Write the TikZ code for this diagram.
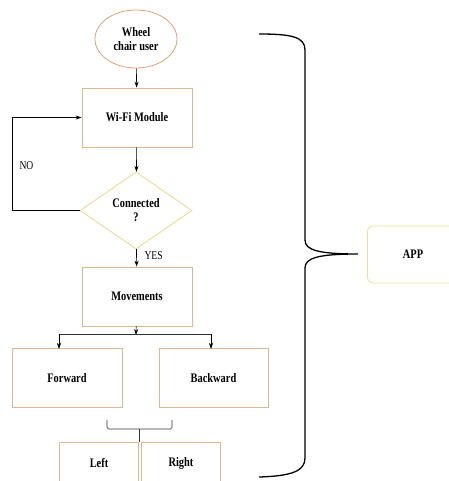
\documentclass[tikz,border=0pt]{standalone}
\usepackage{fontspec}
\setmainfont{Liberation Serif}[FakeStretch=0.8]
\usepackage{tikz}
\usetikzlibrary{shapes.geometric, arrows.meta, positioning}
\definecolor{boxtan}{RGB}{222, 184, 140}
\definecolor{ovalorange}{RGB}{230, 160, 110}
\definecolor{diayellow}{RGB}{232, 218, 130}
\definecolor{appyellow}{RGB}{236, 228, 140}

\begin{document}
\begin{tikzpicture}[
    x=1pt, y=-1pt,
    font=\fontsize{13}{14}\selectfont\bfseries,
    stepbox/.style={rectangle, draw=boxtan, thick, fill=white,
                minimum width=110pt, minimum height=59pt, text centered},
    halfbox/.style={rectangle, draw=boxtan, thick, fill=white,
                minimum width=79pt, minimum height=42pt, text centered},
    arrow/.style={-{Stealth[length=6pt, width=4pt]}, semithick, black},
    plain/.style={semithick, black!80}
]
    \useasboundingbox (0,0) rectangle (448,481);

    % Start
    \node[ellipse, draw=ovalorange, thick, minimum width=82pt, minimum height=58pt,
          align=center, inner sep=1pt] (user) at (136,39) {Wheel\\chair user};

    % Connection check
    \node[stepbox] (wifi) at (137,117.5) {Wi-Fi Module};
    \node[diamond, draw=diayellow, thick, aspect=1.45, minimum width=112pt,
          minimum height=77pt, inner sep=0pt, align=center] (conn) at (136,210.5) {Connected\\?};

    % Motion
    \node[stepbox] (moves) at (137,296.5) {Movements};
    \node[stepbox] (fwd) at (67,378) {Forward};
    \node[stepbox, minimum width=109pt] (bwd) at (213.5,378) {Backward};
    \node[halfbox, anchor=north] (left) at (99,442) {Left};
    \node[halfbox, anchor=north] (right) at (181,442) {Right};

    % App
    \node[rectangle, draw=appyellow, thick, rounded corners=6pt, anchor=west,
          minimum width=95pt, minimum height=57pt, text centered] (app) at (367,254.5) {};
    \node at (413,254) {APP};

    % Connections
    \draw[arrow] (user) -- (wifi);
    \draw[arrow] (wifi) -- (conn);
    \draw[arrow] (conn.west) -| (12,117.5) -- (wifi.west);
    \draw[arrow] (conn) -- (moves);
    \coordinate (split) at (136,335);
    \draw[arrow] (moves) -- (split);
    \draw[plain] (59,334) -- (211,334);
    \draw[arrow] (59,334) -- (59,349);
    \draw[arrow] (211,334) -- (211,349);

    % Small bracket to Left/Right
    \coordinate (join) at (139,429);
    \draw[plain, rounded corners=1.5pt] (107,420) -- (107,429) -- (172,429) -- (172,420);
    \draw[plain] (join) -- (left.north east -| join);

    % Labels
    \node[font=\fontsize{12}{13}\selectfont, anchor=west] at (16,166) {NO};
    \node[font=\fontsize{12}{13}\selectfont, anchor=west] at (141,256) {YES};

    % Big brace
    \coordinate (bracetip) at (358,254);
    \draw[line width=1.3pt]
        (259,34) .. controls (292,34) and (305,37) .. (305,50)
        -- (305,240) .. controls (305,250) and (318,254) .. (bracetip)
        .. controls (318,254) and (305,258) .. (305,268)
        -- (305,458) .. controls (305,471) and (292,476) .. (259,477);
\end{tikzpicture}
\end{document}
